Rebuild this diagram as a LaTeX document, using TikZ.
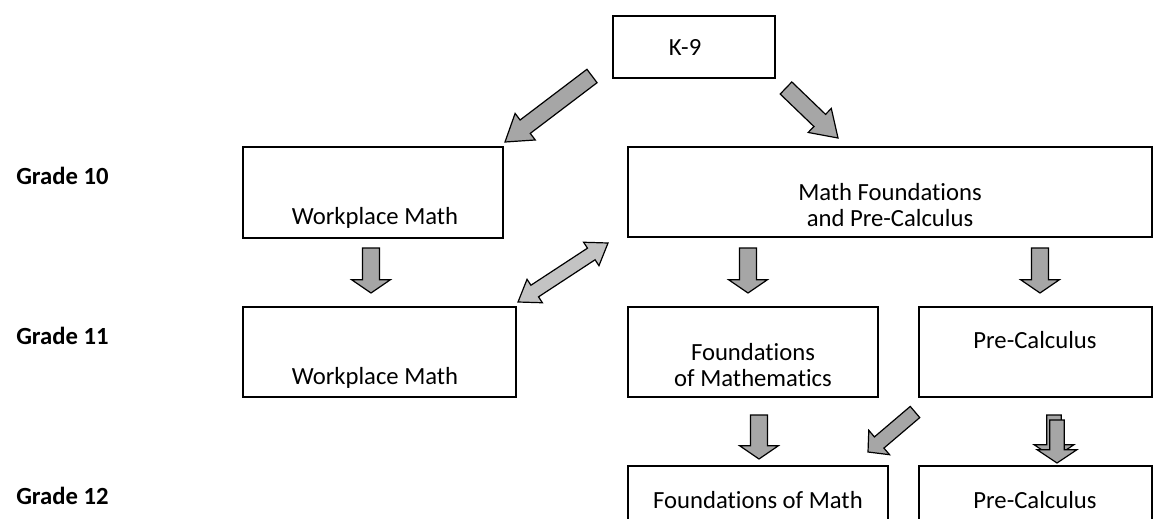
\documentclass[tikz,border=0pt]{standalone}
\usepackage{fontspec}
\setmainfont{Carlito}[RawFeature=-liga]
\usetikzlibrary{calc,positioning}

\definecolor{arrowgray}{RGB}{166,166,166}
\definecolor{lightgray}{RGB}{195,195,195}

% block arrow: #1 style, #2 start, #3 end, #4 shaft half width, #5 head half width, #6 head length
\newcommand{\blockarrow}[6]{%
  \coordinate (ba-h) at ($(#3)!#6!(#2)$);
  \draw[#1] ($(#2)!#4!90:(#3)$) -- ($(ba-h)!#4!90:(#3)$) -- ($(ba-h)!#5!90:(#3)$) -- (#3)
    -- ($(ba-h)!#5!-90:(#3)$) -- ($(ba-h)!#4!-90:(#3)$) -- ($(#2)!#4!-90:(#3)$) -- cycle;}
% double headed block arrow
\newcommand{\blockarrowboth}[6]{%
  \coordinate (ba-h) at ($(#3)!#6!(#2)$);
  \coordinate (ba-t) at ($(#2)!#6!(#3)$);
  \draw[#1] (#2) -- ($(ba-t)!#5!-90:(#3)$) -- ($(ba-t)!#4!-90:(#3)$) -- ($(ba-h)!#4!-90:(#3)$)
    -- ($(ba-h)!#5!-90:(#3)$) -- (#3) -- ($(ba-h)!#5!90:(#3)$) -- ($(ba-h)!#4!90:(#3)$)
    -- ($(ba-t)!#4!90:(#3)$) -- ($(ba-t)!#5!90:(#3)$) -- cycle;}

\begin{document}
\begin{tikzpicture}[x=0.75pt,y=-0.75pt]
\tikzset{
  box/.style={draw=black,line width=1.1pt,inner sep=0pt},
  boxtext/.style={align=center,font=\fontsize{18.5}{19.5}\selectfont,inner sep=0pt},
  gradetext/.style={anchor=west,font=\fontsize{18.5}{19}\selectfont\bfseries,inner sep=0pt},
  fatarrow/.style={draw=black,fill=arrowgray,line width=0.9pt,line join=miter},
  fatarrowlight/.style={fatarrow,fill=lightgray}
}
\useasboundingbox (0,0) rectangle (1168,518);

% grade labels
\node[gradetext] (g10) at (16,176) {Grade 10};
\node[gradetext] (g11) at (16,336) {Grade 11};
\node[gradetext] (g12) at (16,496) {Grade 12};

% boxes
\node[box,minimum width=162*0.75pt,minimum height=62*0.75pt] (k9) at (694,47) {};
\node[boxtext] (k9-txt) at (685,47) {K-9};

\node[box,minimum width=260*0.75pt,minimum height=91*0.75pt] (wp10) at (373,192.5) {};
\node[boxtext] (wp10-txt) at (375,218) {Workplace Math};

\node[box,minimum width=524*0.75pt,minimum height=90*0.75pt] (mfpc) at (890,192) {};
\node[boxtext] (mfpc-txt) at (890,205) {Math Foundations\\and Pre-Calculus};

\node[box,minimum width=273*0.75pt,minimum height=90*0.75pt] (wp11) at (379.5,352) {};
\node[boxtext] (wp11-txt) at (375,378) {Workplace Math};

\node[box,minimum width=250*0.75pt,minimum height=90*0.75pt] (fom11) at (753,352) {};
\node[boxtext] (fom11-txt) at (753,365) {Foundations\\of Mathematics};

\node[box,minimum width=233*0.75pt,minimum height=90*0.75pt] (pc11) at (1035.5,352) {};
\node[boxtext] (pc11-txt) at (1035,340) {Pre-Calculus};

\node[box,minimum width=260*0.75pt,minimum height=90*0.75pt] (fom12) at (758,511) {};
\node[boxtext] (fom12-txt) at (758,500) {Foundations of Math};

\node[box,minimum width=233*0.75pt,minimum height=90*0.75pt] (pc12) at (1035.5,511) {};
\node[boxtext] (pc12-txt) at (1035,500) {Pre-Calculus};

% arrows
\coordinate (a1s) at (592,76);  \coordinate (a1e) at (505,142);
\coordinate (a2s) at (786,88);  \coordinate (a2e) at (838,138);
\coordinate (a3s) at (371,248); \coordinate (a3e) at (371,293);
\coordinate (a4s) at (748,248); \coordinate (a4e) at (748,293);
\coordinate (a5s) at (1040,248); \coordinate (a5e) at (1040,293);
\coordinate (a6s) at (518,302); \coordinate (a6e) at (608,243);
\coordinate (a7s) at (759,415); \coordinate (a7e) at (759,459);
\coordinate (a8s) at (915,412); \coordinate (a8e) at (868,452);
\coordinate (a9s) at (1054,415); \coordinate (a9e) at (1054,458);
\coordinate (a10s) at (1057,420); \coordinate (a10e) at (1057,463);

\blockarrow{fatarrow}{a1s}{a1e}{6.3pt}{12.5pt}{19pt}
\blockarrow{fatarrow}{a2s}{a2e}{6.3pt}{12.5pt}{19pt}
\blockarrow{fatarrow}{a3s}{a3e}{6.4pt}{14.6pt}{10pt}
\blockarrow{fatarrow}{a4s}{a4e}{6.4pt}{14.6pt}{10pt}
\blockarrow{fatarrow}{a5s}{a5e}{6.4pt}{14.6pt}{10pt}
\blockarrowboth{fatarrowlight}{a6s}{a6e}{5.2pt}{10.5pt}{15pt}
\blockarrow{fatarrow}{a7s}{a7e}{6.4pt}{14.6pt}{10pt}
\blockarrow{fatarrow}{a8s}{a8e}{5.5pt}{12pt}{11pt}
\blockarrow{fatarrow}{a9s}{a9e}{5.5pt}{15pt}{10pt}
\blockarrow{fatarrow}{a10s}{a10e}{5.5pt}{15pt}{10pt}
\end{tikzpicture}
\end{document}
